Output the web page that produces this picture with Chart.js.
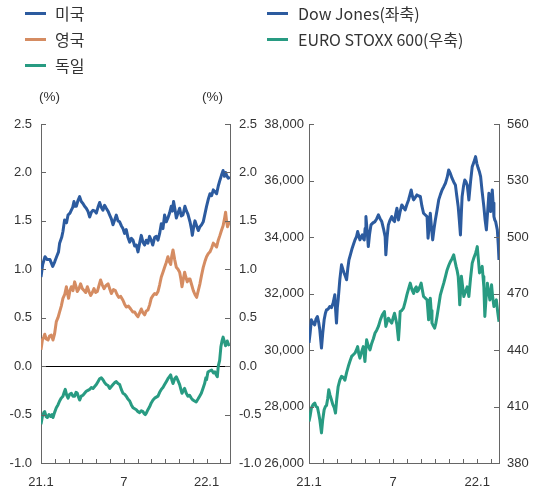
<!DOCTYPE html>
<html><head><meta charset="utf-8">
<script src="https://cdn.jsdelivr.net/npm/chart.js@4"></script>
<style>
html,body{margin:0;padding:0;background:#fff;}
#wrap{position:relative;width:533px;height:493px;overflow:hidden;}
canvas{position:absolute;top:0;}
.lg{position:absolute;height:18px;line-height:18px;font-family:"Noto Sans CJK KR","Noto Sans",sans-serif;font-size:16px;color:#333;white-space:nowrap;}
.sw{position:absolute;width:21px;height:3px;}
.unit{position:absolute;font-family:"Liberation Sans",Arial,sans-serif;font-size:13.5px;color:#333;line-height:16px;}
</style></head>
<body><div id="wrap">
<canvas id="cA" width="270" height="493" style="left:0;width:270px;height:493px"></canvas>
<canvas id="cB" width="278" height="493" style="left:255px;width:278px;height:493px"></canvas>
<div class="sw" style="left:25px;top:12px;background:#2c5b9f"></div><div class="lg" style="left:55px;top:4px">미국</div>
<div class="sw" style="left:25px;top:38px;background:#d58c62"></div><div class="lg" style="left:55px;top:30px">영국</div>
<div class="sw" style="left:25px;top:64px;background:#289b82"></div><div class="lg" style="left:55px;top:56px">독일</div>
<div class="sw" style="left:267px;top:12px;background:#2c5b9f"></div><div class="lg" style="left:298px;top:4px">Dow Jones(좌축)</div>
<div class="sw" style="left:267px;top:38px;background:#289b82"></div><div class="lg" style="left:298px;top:30px">EURO STOXX 600(우축)</div>
<div class="unit" style="left:39px;top:89px">(%)</div>
<div class="unit" style="left:202px;top:89px">(%)</div>
</div>
<script>
// ---- data (x = months since Jan 2021) ----
const monthTicks = [0,1,2,3,4,5,6,7,8,9,10,11,12,13];
const monthLabels = {0:'21.1', 6:'7', 12:'22.1'};
const yieldTicks = [-1.0,-0.5,0.0,0.5,1.0,1.5,2.0,2.5];
const dowTicks = [26000,28000,30000,32000,34000,36000,38000];
const stoxxTicks = [380,410,440,470,500,530,560];

const usMonth = [0,0.12,0.29,0.45,0.65,0.85,1.0,1.13,1.27,1.35,1.5,1.59,1.71,1.85,1.96,2.1,2.2,2.3,2.39,2.47,2.56,2.68,2.8,2.92,3.04,3.16,3.28,3.4,3.53,3.65,3.77,3.9,4.01,4.13,4.25,4.37,4.49,4.61,4.73,4.86,4.98,5.1,5.22,5.34,5.46,5.58,5.7,5.82,5.94,6.06,6.18,6.3,6.43,6.55,6.67,6.79,6.91,7.03,7.15,7.27,7.39,7.51,7.63,7.75,7.87,7.99,8.1,8.24,8.36,8.48,8.6,8.72,8.84,8.96,9.08,9.2,9.32,9.44,9.53,9.61,9.71,9.81,9.93,10.05,10.17,10.29,10.43,10.55,10.65,10.8,10.9,10.97,11.07,11.16,11.28,11.4,11.52,11.64,11.76,11.88,12.0,12.12,12.25,12.37,12.49,12.61,12.73,12.85,12.97,13.08,13.2,13.3,13.38,13.45,13.57,13.7];
const usYield = [0.92,1.05,1.13,1.10,1.10,1.03,1.08,1.13,1.18,1.27,1.33,1.39,1.51,1.48,1.56,1.58,1.61,1.64,1.70,1.65,1.65,1.71,1.75,1.70,1.68,1.65,1.63,1.60,1.54,1.59,1.61,1.60,1.58,1.64,1.69,1.64,1.61,1.66,1.63,1.60,1.56,1.52,1.46,1.51,1.56,1.50,1.49,1.45,1.42,1.37,1.41,1.33,1.28,1.32,1.30,1.24,1.25,1.18,1.27,1.35,1.28,1.25,1.30,1.27,1.34,1.30,1.25,1.33,1.34,1.30,1.37,1.47,1.42,1.56,1.49,1.53,1.58,1.65,1.60,1.70,1.62,1.53,1.58,1.63,1.55,1.56,1.65,1.60,1.57,1.49,1.42,1.35,1.44,1.50,1.45,1.40,1.44,1.46,1.49,1.57,1.65,1.72,1.78,1.76,1.82,1.80,1.78,1.86,1.92,1.97,2.02,1.96,2.00,1.97,1.94,1.95];

const ukMonth = [0,0.1,0.2,0.27,0.38,0.51,0.62,0.75,0.87,0.98,1.11,1.23,1.35,1.47,1.59,1.72,1.84,1.92,2.0,2.1,2.2,2.32,2.44,2.54,2.63,2.75,2.87,3.0,3.12,3.24,3.36,3.48,3.6,3.72,3.84,3.96,4.08,4.2,4.32,4.44,4.57,4.7,4.86,4.98,5.1,5.25,5.39,5.51,5.63,5.78,5.94,6.06,6.18,6.34,6.5,6.65,6.79,6.91,7.03,7.15,7.27,7.39,7.51,7.63,7.75,7.87,7.99,8.12,8.24,8.36,8.48,8.6,8.72,8.84,8.96,9.08,9.2,9.3,9.4,9.48,9.57,9.69,9.81,9.93,10.05,10.14,10.22,10.32,10.41,10.5,10.6,10.72,10.8,10.92,11.04,11.16,11.28,11.4,11.52,11.64,11.76,11.88,12.0,12.12,12.25,12.37,12.49,12.61,12.73,12.85,12.97,13.08,13.2,13.3,13.38,13.45,13.52,13.6,13.7];
const ukYield = [0.17,0.27,0.30,0.33,0.28,0.27,0.31,0.32,0.27,0.33,0.46,0.50,0.56,0.62,0.70,0.74,0.82,0.75,0.70,0.78,0.82,0.78,0.87,0.82,0.77,0.80,0.85,0.80,0.78,0.76,0.82,0.77,0.73,0.76,0.80,0.76,0.77,0.83,0.89,0.84,0.80,0.83,0.85,0.80,0.75,0.79,0.78,0.74,0.71,0.72,0.68,0.64,0.61,0.62,0.59,0.56,0.56,0.53,0.51,0.55,0.59,0.55,0.53,0.57,0.58,0.63,0.70,0.73,0.75,0.74,0.77,0.84,0.92,0.97,1.02,1.07,1.13,1.08,1.05,1.14,1.20,1.10,1.02,1.00,0.97,0.90,0.82,0.90,0.97,0.92,0.87,0.90,0.90,0.84,0.78,0.74,0.71,0.78,0.85,0.94,1.02,1.08,1.13,1.16,1.18,1.22,1.27,1.25,1.23,1.30,1.35,1.40,1.45,1.52,1.59,1.50,1.44,1.47,1.49];

const deMonth = [0,0.1,0.2,0.27,0.37,0.46,0.58,0.7,0.8,0.87,0.98,1.11,1.23,1.35,1.47,1.59,1.68,1.76,1.86,1.96,2.08,2.2,2.32,2.44,2.54,2.63,2.72,2.8,2.92,3.04,3.16,3.28,3.4,3.53,3.65,3.77,3.89,4.01,4.13,4.25,4.37,4.49,4.61,4.73,4.86,4.98,5.1,5.22,5.34,5.46,5.58,5.7,5.82,5.94,6.06,6.18,6.3,6.43,6.55,6.67,6.79,6.91,7.03,7.15,7.27,7.39,7.48,7.56,7.65,7.75,7.87,7.99,8.12,8.24,8.36,8.48,8.6,8.72,8.84,8.96,9.08,9.2,9.3,9.4,9.48,9.57,9.69,9.81,9.93,10.05,10.14,10.22,10.32,10.41,10.53,10.65,10.77,10.89,11.01,11.13,11.25,11.38,11.5,11.62,11.74,11.86,11.95,12.0,12.1,12.22,12.37,12.5,12.6,12.7,12.78,12.85,12.95,13.04,13.12,13.2,13.3,13.38,13.5,13.6,13.7];
const deYield = [-0.60,-0.52,-0.48,-0.47,-0.52,-0.53,-0.50,-0.52,-0.50,-0.53,-0.48,-0.43,-0.40,-0.36,-0.33,-0.31,-0.27,-0.24,-0.30,-0.33,-0.29,-0.28,-0.31,-0.31,-0.27,-0.28,-0.32,-0.35,-0.31,-0.30,-0.28,-0.26,-0.25,-0.24,-0.22,-0.23,-0.21,-0.19,-0.16,-0.13,-0.12,-0.14,-0.17,-0.19,-0.20,-0.23,-0.21,-0.19,-0.17,-0.16,-0.18,-0.19,-0.24,-0.28,-0.29,-0.31,-0.34,-0.36,-0.40,-0.43,-0.44,-0.45,-0.47,-0.48,-0.46,-0.47,-0.49,-0.50,-0.48,-0.45,-0.42,-0.38,-0.35,-0.33,-0.32,-0.31,-0.27,-0.24,-0.22,-0.19,-0.16,-0.13,-0.11,-0.09,-0.14,-0.18,-0.13,-0.11,-0.15,-0.19,-0.24,-0.28,-0.25,-0.23,-0.28,-0.31,-0.30,-0.33,-0.35,-0.36,-0.37,-0.34,-0.31,-0.28,-0.23,-0.18,-0.12,-0.14,-0.06,-0.05,-0.04,-0.07,-0.06,-0.09,-0.11,0.00,0.06,0.20,0.26,0.30,0.25,0.21,0.26,0.22,0.23];

const dowMonth = [0,0.08,0.17,0.29,0.41,0.5,0.6,0.7,0.77,0.89,0.98,1.08,1.17,1.25,1.37,1.48,1.6,1.72,1.84,1.9,1.96,2.02,2.08,2.2,2.32,2.42,2.51,2.6,2.68,2.77,2.85,2.97,3.08,3.18,3.28,3.38,3.47,3.55,3.63,3.72,3.8,3.87,3.94,4.0,4.06,4.15,4.23,4.32,4.42,4.56,4.71,4.83,4.95,5.07,5.19,5.31,5.43,5.48,5.57,5.66,5.78,5.9,6.0,6.1,6.18,6.27,6.38,6.5,6.62,6.74,6.86,6.98,7.1,7.2,7.29,7.37,7.46,7.58,7.7,7.82,7.94,8.05,8.17,8.3,8.42,8.49,8.57,8.65,8.74,8.82,8.92,9.01,9.13,9.25,9.37,9.49,9.61,9.73,9.85,9.96,10.08,10.2,10.32,10.44,10.54,10.64,10.72,10.8,10.86,10.92,11.02,11.11,11.2,11.28,11.34,11.4,11.52,11.64,11.76,11.88,11.97,12.07,12.16,12.24,12.35,12.47,12.56,12.65,12.74,12.83,12.89,12.95,13.01,13.07,13.13,13.19,13.25,13.31,13.37,13.43,13.5,13.55];
const dowIndex = [30250,30600,31069,30950,30892,31100,31186,30950,30716,30069,30600,31069,31300,31423,31450,31540,31500,31660,31953,31400,30952,31500,31775,32500,33014,32850,32720,32600,32484,32900,33190,33400,33605,33750,33898,34000,34192,34050,33898,34000,34075,33950,33898,34300,34722,34200,33662,34100,34429,34500,34545,34650,34782,34650,34545,34300,34015,33368,34000,34429,34600,34722,34600,34545,34800,35019,34604,34900,35136,35050,34959,35150,35313,35500,35666,35450,35313,35400,35490,35450,35432,35100,34842,34780,34722,33957,34400,34842,34300,33898,34300,34604,34950,35313,35500,35666,35780,35903,36100,36373,36250,36080,35950,35843,35450,35076,34600,34075,34800,35430,35800,36020,35950,35843,35600,35313,35950,36490,36650,36844,36600,36430,36300,36136,35600,35076,34600,34252,34900,35548,35200,34900,35300,35666,35200,34722,34600,34545,34400,34252,33700,33190];

const stoxxMonth = [0,0.08,0.17,0.29,0.41,0.5,0.6,0.7,0.77,0.89,0.98,1.08,1.17,1.25,1.33,1.41,1.5,1.6,1.7,1.79,1.89,1.98,2.08,2.2,2.32,2.44,2.56,2.68,2.8,2.92,3.04,3.16,3.28,3.38,3.47,3.55,3.63,3.75,3.87,3.93,3.99,4.05,4.11,4.23,4.35,4.47,4.59,4.71,4.83,4.95,5.09,5.23,5.38,5.48,5.57,5.66,5.78,5.9,6.0,6.1,6.2,6.27,6.38,6.44,6.5,6.62,6.74,6.86,6.98,7.1,7.22,7.34,7.46,7.55,7.65,7.72,7.8,7.9,8.0,8.08,8.17,8.3,8.42,8.47,8.53,8.59,8.65,8.71,8.77,8.86,8.96,9.04,9.13,9.25,9.37,9.49,9.61,9.73,9.85,9.97,10.09,10.2,10.32,10.4,10.49,10.57,10.64,10.7,10.75,10.81,10.87,10.95,11.04,11.16,11.28,11.34,11.4,11.52,11.64,11.76,11.88,11.94,12.0,12.08,12.16,12.26,12.35,12.41,12.47,12.54,12.63,12.72,12.81,12.9,12.96,13.02,13.1,13.19,13.28,13.36,13.46,13.55];
const stoxxIndex = [402,405,409.2,411,411.8,410,409.6,406,403,396,403,408.3,410,410.6,414,418.9,416,413.6,411,409.6,406.5,414,420.6,424,426,425.5,424,428,431.2,434,436.6,437.5,438.4,440,441.8,438,435.7,439,441.8,438,433.9,440,445.4,442,440,443.5,446,449,450.5,452.5,456,458.7,460.4,452.5,455,456.9,455.5,454.3,457,459.5,456,453.4,445.4,452,460.4,461,462.2,465.5,469.3,472.5,475.5,472,470,472.5,473.5,471,471.7,473.5,475.5,472,468.4,467.5,466.6,462,456,462,467.5,461,454.3,453,451.6,454,457.8,463.5,469.3,472.5,475.5,479,482.5,485,487,488.5,490.5,487.5,484.4,482,479.1,472,464,471,479.1,474,468.4,471,473.5,471,468.4,478,486.1,489,491.4,493,494.9,488,480.9,482.5,484.4,479,473.5,457.8,468,475.5,471,466.6,470,474.6,468,463.1,465,466.6,460,455];

// ---- styling ----
const BLUE = '#2c5b9f', ORANGE = '#d58c62', TEAL = '#289b82';
const AXIS = '#666', TXT = '#333';
const tickFont = {family: '"Liberation Sans", Arial, sans-serif', size: 13};

function pts(xs, ys){ return xs.map((x,i)=>({x:x, y:ys[i]})); }
function line(label, xs, ys, color, axis){
  return {label, data: pts(xs, ys), borderColor: color, backgroundColor: color,
    borderWidth: 3, pointRadius: 0, tension: 0, yAxisID: axis || 'y', borderJoinStyle: 'round'};
}

const innerTicks = {
  id: 'innerTicks',
  afterDraw(chart){
    const ctx = chart.ctx, a = chart.chartArea;
    ctx.save(); ctx.strokeStyle = AXIS; ctx.lineWidth = 1;
    Object.values(chart.scales).forEach(s => {
      ctx.beginPath();
      s.ticks.forEach(t => {
        const p = Math.round(s.getPixelForValue(t.value)) + 0.5;
        if (s.axis === 'x') { ctx.moveTo(p, a.bottom); ctx.lineTo(p, a.bottom - 4); }
        else if (s.position === 'left') { ctx.moveTo(a.left, p); ctx.lineTo(a.left + 5, p); }
        else { ctx.moveTo(a.right, p); ctx.lineTo(a.right - 5, p); }
      });
      ctx.stroke();
    });
    ctx.restore();
  }
};
const zeroLine = {
  id: 'zeroLine',
  beforeDatasetsDraw(chart, args, opts){
    if (!opts.on) return;
    const ctx = chart.ctx, a = chart.chartArea, y = Math.round(chart.scales.y.getPixelForValue(0)) + 0.5;
    ctx.save(); ctx.strokeStyle = '#000'; ctx.lineWidth = 1;
    ctx.beginPath(); ctx.moveTo(a.left, y); ctx.lineTo(a.right, y); ctx.stroke(); ctx.restore();
  }
};

function xScale(maxM, h){
  return {type: 'linear', position: 'bottom', min: 0, max: maxM,
    grid: {display: false, drawTicks: false}, border: {display: true, color: AXIS, width: 1},
    afterBuildTicks: s => { s.ticks = monthTicks.map(v => ({value: v})); },
    afterFit: s => { s.height = h; },
    ticks: {autoSkip: false, maxRotation: 0, minRotation: 0, padding: 12, color: TXT, font: tickFont,
      callback: v => monthLabels[v] !== undefined ? monthLabels[v] : ''}};
}
function yScale(pos, min, max, tickVals, fmt, width, pad){
  return {type: 'linear', position: pos, min, max,
    grid: {display: false, drawTicks: false}, border: {display: true, color: AXIS, width: 1},
    afterBuildTicks: s => { s.ticks = tickVals.map(v => ({value: v})); },
    afterFit: s => { s.width = width; },
    ticks: {padding: pad, color: TXT, font: tickFont, callback: fmt}};
}
const f1 = v => Number(v).toFixed(1);
const fK = v => Number(v).toLocaleString('en-US');
const f0 = v => String(v);

const common = {responsive: false, animation: false, devicePixelRatio: 1,
  plugins: {legend: {display: false}, tooltip: {enabled: false}},
  layout: {padding: {top: 124, left: 0, right: 0, bottom: 0}}};

new Chart(document.getElementById('cA'), {
  type: 'line',
  data: {datasets: [
    line('미국', usMonth, usYield, BLUE),
    line('영국', ukMonth, ukYield, ORANGE),
    line('독일', deMonth, deYield, TEAL)
  ]},
  options: Object.assign({}, common, {
    plugins: {legend: {display: false}, tooltip: {enabled: false}, zeroLine: {on: true}},
    scales: {
      x: xScale(13.7, 30),
      y: yScale('left', -1, 2.5, yieldTicks, f1, 41, 9),
      y2: yScale('right', -1, 2.5, yieldTicks, f1, 40, 9)
    }
  }),
  plugins: [innerTicks, zeroLine]
});

new Chart(document.getElementById('cB'), {
  type: 'line',
  data: {datasets: [
    line('Dow Jones(좌축)', dowMonth, dowIndex, BLUE, 'y'),
    line('EURO STOXX 600(우축)', stoxxMonth, stoxxIndex, TEAL, 'y2')
  ]},
  options: Object.assign({}, common, {
    scales: {
      x: xScale(13.55, 30),
      y: yScale('left', 26000, 38000, dowTicks, fK, 54, 5),
      y2: yScale('right', 380, 560, stoxxTicks, f0, 34, 8)
    }
  }),
  plugins: [innerTicks]
});
</script>
</body></html>
